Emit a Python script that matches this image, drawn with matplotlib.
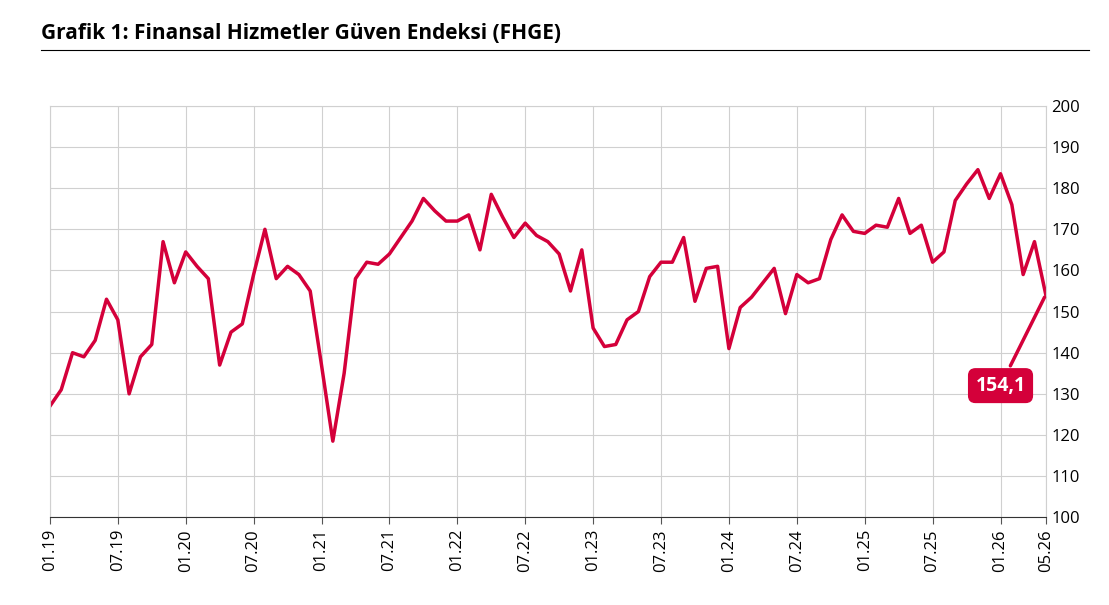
import numpy as np
import matplotlib.pyplot as plt

# FHGE aylik degerler, 01.19 - 05.26
fhge = [127, 131, 140, 139, 143, 153, 148, 130, 139, 142, 167, 157,
        164.5, 161, 158, 137, 145, 147, 159, 170, 158, 161, 159, 155,
        137, 118.5, 135, 158, 162, 161.5, 164, 168, 172, 177.5, 174.5, 172,
        172, 173.5, 165, 178.5, 173, 168, 171.5, 168.5, 167, 164, 155, 165,
        146, 141.5, 142, 148, 150, 158.5, 162, 162, 168, 152.5, 160.5, 161,
        141, 151, 153.5, 157, 160.5, 149.5, 159, 157, 158, 167.5, 173.5, 169.5,
        169, 171, 170.5, 177.5, 169, 171, 162, 164.5, 177, 181, 184.5, 177.5,
        183.5, 176, 159, 167, 154.1]
tick_pos = [0, 6, 12, 18, 24, 30, 36, 42, 48, 54, 60, 66, 72, 78, 84, 88]
tick_lab = ['01.19', '07.19', '01.20', '07.20', '01.21', '07.21', '01.22', '07.22',
            '01.23', '07.23', '01.24', '07.24', '01.25', '07.25', '01.26', '05.26']

plt.rcParams['font.family'] = ['Open Sans', 'DejaVu Sans']
red = '#d4003a'

fig = plt.figure(figsize=(11.09, 6.05), dpi=100)
fig.text(0.037, 0.945, 'Grafik 1: Finansal Hizmetler Güven Endeksi (FHGE)',
         fontsize=15, fontweight='bold', va='center')
fig.add_artist(plt.Line2D([0.037, 0.982], [0.917, 0.917], color='black', lw=0.8))

ax = fig.add_axes([0.045, 0.145, 0.898, 0.68])
x = np.arange(len(fhge))
ax.plot(x, fhge, color=red, lw=2.5)
ax.set_xlim(0, 88)
ax.set_ylim(100, 200)
ax.set_yticks(range(100, 201, 10))
ax.yaxis.tick_right()
ax.set_xticks(tick_pos)
ax.set_xticklabels(tick_lab, rotation=90, fontsize=12)
ax.tick_params(axis='y', labelsize=12, length=0, pad=4)
ax.tick_params(axis='x', length=5, color='#555555')
ax.grid(True, color='#d0d0d0', lw=0.8)
for s in ['top', 'right', 'left']:
    ax.spines[s].set_color('#d0d0d0')
ax.spines['bottom'].set_color('#333333')

ax.annotate('154,1', xy=(88, 154.1), xytext=(84, 132),
            ha='center', va='center', color='white', fontsize=14, fontweight='bold',
            bbox=dict(boxstyle='round,pad=0.35', fc=red, ec=red),
            arrowprops=dict(arrowstyle='-', color=red, lw=2.5))

fig.savefig('out.png', dpi=100)
